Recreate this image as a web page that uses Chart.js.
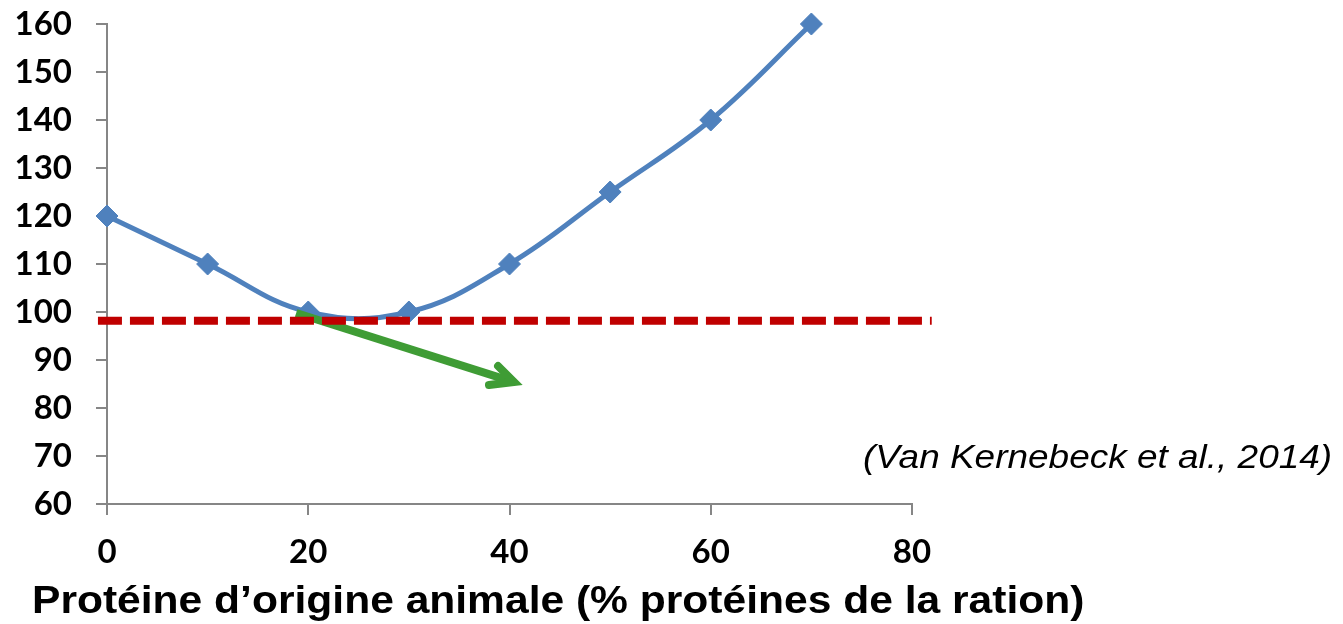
<!DOCTYPE html>
<html lang="fr">
<head>
  <meta charset="UTF-8" />
  <title>Protéine d'origine animale</title>
  <script src="https://cdn.jsdelivr.net/npm/chart.js"></script>
  <style>
    body {
      margin: 0;
      background: #fff;
    }

    #wrap {
      position: relative;
      width: 1343px;
      height: 624px;
    }

    .note {
      position: absolute;
      white-space: nowrap;
      color: #000;
      line-height: 1;
      transform-origin: left top;
      transform: scaleX(1.12);
      font-family: 'Liberation Sans', Arial, sans-serif;
    }

    #xtitle {
      left: 32px;
      top: 581px;
      font-size: 38px;
      font-weight: bold;
    }

    #source {
      left: 863px;
      top: 440px;
      font-size: 33px;
      font-style: italic;
    }
  </style>
</head>
<body>
  <div id="wrap">
    <canvas id="chart"></canvas>
    <div id="xtitle" class="note">Protéine d’origine animale (% protéines de la ration)</div>
    <div id="source" class="note">(Van Kernebeck et al., 2014)</div>
  </div>

  <script>
    // courbe principale
    const xValues = [0, 10, 20, 30, 40, 50, 60, 70];
    const yValues = [120, 110, 100, 100, 110, 125, 140, 160];

    // ligne de référence (pointillés rouges)
    const refX = [-0.9, 81.96];
    const refY = [98.2, 98.2];

    // flèche verte : tige puis pointe
    const shaftX = [18.8, 40.45];
    const shaftY = [99.8, 85.4];
    const headX = [38.86, 40.45, 37.96];
    const headY = [88.75, 85.4, 84.8];

    const axisGray = '#868686';
    const tickFont = { family: 'Lato, "Liberation Sans", sans-serif', size: 33, weight: 'bold', lineHeight: 1 };

    const toPoints = (xs, ys) => xs.map((x, i) => ({ x: x, y: ys[i] }));

    new Chart(document.getElementById('chart'), {
      type: 'line',
      data: {
        datasets: [
          {
            data: toPoints(refX, refY),
            borderColor: '#C00000',
            borderWidth: 8,
            borderDash: [24, 8],
            pointRadius: 0,
            tension: 0,
            clip: false
          },
          {
            data: toPoints(headX, headY),
            borderColor: '#3F9C35',
            borderWidth: 8,
            borderCapStyle: 'round',
            borderJoinStyle: 'miter',
            pointRadius: 0,
            tension: 0
          },
          {
            data: toPoints(shaftX, shaftY),
            borderColor: '#3F9C35',
            borderWidth: 8,
            borderCapStyle: 'butt',
            pointRadius: 0,
            tension: 0
          },
          {
            data: toPoints(xValues, yValues),
            borderColor: '#4F81BD',
            backgroundColor: '#4F81BD',
            borderWidth: 5,
            tension: 0.4,
            pointStyle: 'rectRot',
            pointRadius: 11,
            pointBorderWidth: 1,
            pointBorderColor: '#4F81BD',
            clip: false
          }
        ]
      },
      options: {
        responsive: true,
        maintainAspectRatio: false,
        animation: false,
        layout: {
          autoPadding: false,
          padding: { left: 0, right: 431, top: 24, bottom: 0 }
        },
        plugins: {
          legend: { display: false },
          tooltip: { enabled: false }
        },
        scales: {
          x: {
            type: 'linear',
            min: 0,
            max: 80,
            ticks: {
              stepSize: 20,
              color: '#000',
              font: tickFont,
              padding: 21
            },
            grid: {
              drawOnChartArea: false,
              color: axisGray,
              lineWidth: 2,
              tickLength: 11
            },
            border: { color: axisGray, width: 2 },
            afterFit: s => { s.height = 120; }
          },
          y: {
            min: 60,
            max: 160,
            ticks: {
              stepSize: 10,
              color: '#000',
              font: tickFont,
              padding: 24
            },
            grid: {
              drawOnChartArea: false,
              color: axisGray,
              lineWidth: 2,
              tickLength: 11
            },
            border: { color: axisGray, width: 2 },
            afterFit: s => {
              s.width = 107;
              s.paddingTop = 16;
              s.paddingBottom = 16;
            }
          }
        }
      }
    });
  </script>
</body>
</html>
